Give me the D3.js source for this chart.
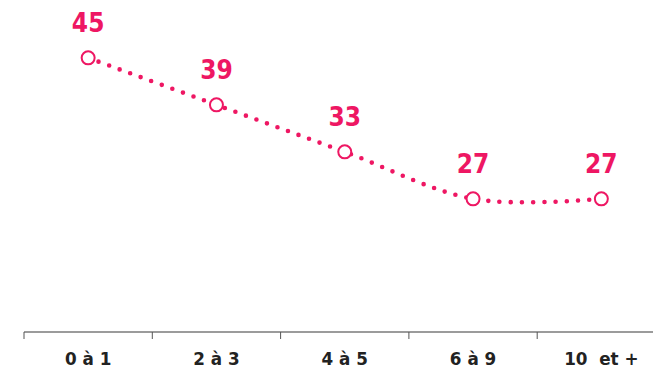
<!DOCTYPE html>
<html>
<head>
<meta charset="utf-8">
<script src="https://cdn.jsdelivr.net/npm/d3@7"></script>
<style>
  html, body { margin: 0; padding: 0; background: #fff; }
  svg { display: block; }
</style>
</head>
<body>
<svg id="chart" width="653" height="369"></svg>
<script>
// Age groups along the x axis
const categories = ["0 à 1", "2 à 3", "4 à 5", "6 à 9", "10  et +"];
// Value shown for each age group
const values = [45, 39, 33, 27, 27];

const pink = "#ee1763";
const svg = d3.select("#chart");

const x = d3.scaleBand().domain(categories).range([24, 665.5]).padding(0);
const y = d3.scaleLinear().domain([10, 50]).range([332, 18.7]);

// Axis: baseline with downward ticks on band boundaries
const axisY = 332;
svg.append("line")
  .attr("x1", x.range()[0]).attr("x2", 653)
  .attr("y1", axisY).attr("y2", axisY)
  .attr("stroke", "#7a7a7a").attr("stroke-width", 1.5);

svg.selectAll("line.tick")
  .data(categories)
  .join("line")
  .attr("class", "tick")
  .attr("x1", d => x(d)).attr("x2", d => x(d))
  .attr("y1", axisY).attr("y2", axisY + 7)
  .attr("stroke", "#555").attr("stroke-width", 1);

svg.selectAll("text.cat")
  .data(categories)
  .join("text")
  .attr("class", "cat")
  .attr("x", d => x(d) + x.bandwidth() / 2)
  .attr("y", 365)
  .attr("text-anchor", "middle")
  .attr("font-family", "'DejaVu Sans', sans-serif")
  .attr("font-weight", "bold")
  .attr("font-size", 16.8)
  .attr("fill", "#222")
  .style("white-space", "pre")
  .text(d => d);

// Dotted smooth line
const pts = categories.map((c, i) => [x(c) + x.bandwidth() / 2, y(values[i])]);
const line = d3.line().curve(d3.curveCardinal.tension(0));
svg.append("path")
  .attr("d", line(pts))
  .attr("fill", "none")
  .attr("stroke", pink)
  .attr("stroke-width", 4.6)
  .attr("stroke-linecap", "round")
  .attr("stroke-dasharray", "0 11.2");

// Open circle markers
svg.selectAll("circle.pt")
  .data(pts)
  .join("circle")
  .attr("class", "pt")
  .attr("cx", d => d[0]).attr("cy", d => d[1])
  .attr("r", 6.5)
  .attr("fill", "#fff")
  .attr("stroke", pink)
  .attr("stroke-width", 2);

// Value labels
svg.selectAll("text.val")
  .data(values)
  .join("text")
  .attr("class", "val")
  .attr("x", (d, i) => pts[i][0])
  .attr("y", (d, i) => pts[i][1] - 26)
  .attr("text-anchor", "middle")
  .attr("font-family", "'DejaVu Sans Condensed', 'DejaVu Sans', sans-serif")
  .attr("font-stretch", "condensed")
  .attr("font-weight", "bold")
  .attr("font-size", 26)
  .attr("fill", pink)
  .text(d => d);
</script>
</body>
</html>
